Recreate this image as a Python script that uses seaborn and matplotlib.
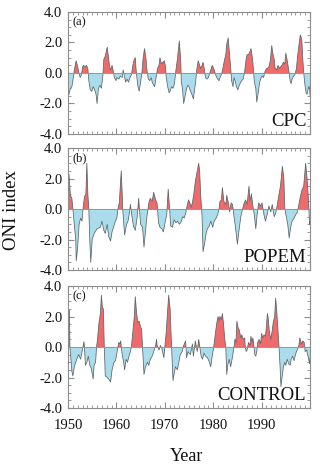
import numpy as np
import pandas as pd
import matplotlib
matplotlib.use("Agg")
import matplotlib.pyplot as plt
import seaborn as sns
from matplotlib.ticker import MultipleLocator

# ---------------- data ----------------
cpc_year = [1950.0,1950.2,1950.5,1950.8,1951.1,1951.3,1951.6,1951.7,1952.0,1952.2,1952.5,1952.8,1953.0,1953.2,1953.5,1953.8,
            1954.1,1954.3,1954.6,1954.9,1955.2,1955.5,1955.8,1956.0,1956.3,1956.6,1956.9,1957.2,1957.4,1957.7,1958.1,1958.3,
            1958.6,1958.8,1959.1,1959.3,1959.6,1959.9,1960.1,1960.5,1960.8,1961.2,1961.4,1961.7,1961.9,1962.2,1962.5,1962.8,
            1963.1,1963.4,1963.7,1963.9,1964.1,1964.4,1964.7,1965.0,1965.3,1965.5,1965.8,1966.1,1966.3,1966.6,1966.9,1967.2,
            1967.4,1967.7,1967.9,1968.2,1968.5,1968.8,1969.0,1969.3,1969.6,1969.9,1970.1,1970.3,1970.6,1970.9,1971.2,1971.4,
            1971.7,1972.0,1972.3,1972.6,1972.8,1973.0,1973.3,1973.4,1973.7,1973.9,1974.2,1974.5,1974.8,1975.0,1975.3,1975.6,
            1975.9,1976.1,1976.4,1976.6,1976.9,1977.2,1977.4,1977.7,1977.9,1978.2,1978.4,1978.7,1979.0,1979.2,1979.5,1979.8,
            1980.1,1980.3,1980.6,1980.9,1981.2,1981.4,1981.7,1982.0,1982.3,1982.6,1982.8,1983.1,1983.3,1983.6,1983.8,1984.1,
            1984.3,1984.6,1984.8,1985.1,1985.4,1985.7,1985.9,1986.2,1986.5,1986.8,1987.0,1987.3,1987.6,1987.8,1988.1,1988.3,
            1988.5,1988.8,1989.0,1989.3,1989.6,1989.9,1990.1,1990.4,1990.7,1991.0,1991.2,1991.5,1991.8,1992.1,1992.3,1992.6,
            1992.8,1993.1,1993.4,1993.7,1993.9,1994.2,1994.5,1994.8,1995.0,1995.3,1995.6,1995.9,1996.1,1996.3,1996.6,1996.9,
            1997.2,1997.4,1997.7,1998.0,1998.3,1998.5,1998.7,1999.0,1999.2,1999.4,1999.7,1999.9,2000.0]
cpc_oni = [-1.5,-1.4,-1.0,-0.9,-0.3,0.2,0.7,0.8,0.4,0.1,-0.3,-0.1,0.4,0.5,0.4,0.5,
           0.3,-0.5,-1.1,-1.2,-0.9,-1.1,-1.4,-2.0,-1.0,-0.8,-1.0,-0.2,0.9,1.1,1.7,1.2,
           0.4,0.2,0.5,0.2,-0.3,-0.5,-0.3,-0.4,-0.2,-0.3,0.2,-0.3,-0.6,-0.4,-0.6,-0.3,
           -0.1,0.5,0.9,1.0,0.1,-0.8,-1.2,-0.6,0.1,0.9,1.6,1.0,0.2,-0.4,-0.5,-0.3,
           -0.6,-0.8,-0.9,-0.3,0.3,0.5,1.0,0.6,0.7,0.8,0.5,-0.3,-0.9,-1.3,-1.1,-0.9,
           -1.0,-0.7,0.2,0.9,1.5,2.1,0.8,-0.5,-1.2,-2.0,-1.5,-1.0,-0.8,-0.9,-1.2,-1.4,
           -1.7,-1.2,-0.5,0.2,0.8,0.5,0.3,0.5,0.7,0.2,-0.3,-0.4,-0.3,-0.1,0.2,0.5,
           0.3,0.1,-0.2,-0.4,-0.5,-0.3,-0.1,0.3,0.8,1.2,1.9,2.3,1.5,0.4,-0.5,-0.9,
           -0.3,-0.6,-0.9,-1.1,-0.8,-0.6,-0.5,-0.4,0.1,0.9,1.2,1.2,1.4,1.6,1.0,0.3,
           -0.6,-1.0,-1.9,-1.3,-0.6,-0.3,-0.2,-0.3,0.1,0.3,0.3,0.4,0.8,1.8,1.3,0.9,
           0.3,0.2,0.5,0.3,0.4,0.5,0.7,0.6,1.3,0.8,0.2,-0.5,-0.7,-0.4,-0.2,-0.1,
           0.3,1.0,1.8,2.5,2.2,1.0,0.0,-0.9,-1.3,-1.4,-0.9,-0.9,-1.5]

popem_year = [1950.0,1950.2,1950.5,1950.8,1951.0,1951.3,1951.6,1951.7,1952.0,1952.3,1952.6,1952.9,1953.1,1953.4,1953.7,1953.9,
              1954.1,1954.3,1954.5,1954.7,1955.0,1955.4,1956.0,1956.7,1957.0,1957.4,1957.7,1958.1,1958.4,1958.8,1959.1,1959.4,
              1959.8,1960.1,1960.3,1960.6,1960.8,1961.0,1961.2,1961.3,1961.7,1962.1,1962.4,1962.7,1962.9,1963.1,1963.3,1963.6,
              1963.9,1964.3,1964.6,1964.8,1965.0,1965.4,1965.7,1966.0,1966.3,1966.7,1967.0,1967.4,1967.7,1968.1,1968.4,1968.7,
              1969.0,1969.4,1969.7,1970.1,1970.4,1970.7,1971.0,1971.2,1971.6,1971.9,1972.3,1972.6,1973.0,1973.3,1973.7,1974.0,
              1974.3,1974.6,1974.9,1975.2,1975.4,1975.7,1976.0,1976.3,1976.6,1977.0,1977.2,1977.4,1977.7,1977.9,1978.2,1978.6,
              1978.8,1979.2,1979.5,1979.9,1980.2,1980.6,1980.9,1981.2,1981.4,1981.7,1981.9,1982.2,1982.6,1982.8,1983.2,1983.4,
              1983.7,1984.0,1984.3,1984.6,1985.0,1985.3,1985.7,1986.0,1986.3,1986.7,1987.0,1987.4,1987.6,1987.9,1988.2,1988.5,
              1988.8,1989.1,1989.4,1989.8,1990.1,1990.5,1990.8,1991.2,1991.5,1991.9,1992.2,1992.6,1992.9,1993.2,1993.5,1993.9,
              1994.3,1994.6,1994.8,1995.1,1995.4,1995.7,1996.0,1996.3,1996.7,1997.0,1997.4,1997.7,1998.0,1998.3,1998.7,1999.1,
              1999.4,1999.7,1999.9,2000.0]
popem_oni = [2.3,2.3,0.9,0.7,0.0,-1.0,-2.0,-3.4,-2.5,-1.0,-0.6,-0.8,0.0,0.8,1.0,3.0,
             1.0,0.0,-2.0,-3.5,-2.0,-1.6,-1.3,-1.2,-0.8,-1.4,-1.6,-1.0,-1.8,-2.1,-1.5,-1.2,
             -0.8,-0.6,0.0,0.4,1.5,2.5,1.0,0.0,-1.7,-1.0,-0.8,-0.2,0.3,-0.2,-0.7,-1.2,
             -1.4,-0.5,0.7,-0.2,-1.0,-1.2,-2.5,-1.5,-0.5,0.4,0.7,0.5,1.1,0.6,0.4,-0.9,
             -1.2,-1.3,-1.5,-0.8,-0.4,1.3,0.0,-1.1,-1.2,-0.7,-0.9,-0.8,-1.0,-0.9,-0.5,-0.6,
             -0.3,0.2,0.6,0.4,0.1,0.4,1.0,1.8,2.3,3.0,2.5,1.0,-0.5,-2.8,-2.3,-1.5,
             -1.3,-1.1,-0.8,-1.2,-0.8,-0.6,-0.4,0.0,0.5,0.6,1.4,0.5,0.3,0.9,0.3,-0.2,
             0.4,0.3,-0.5,-1.2,-2.3,-1.5,-0.5,-0.1,0.3,0.6,0.3,1.5,0.5,1.0,0.2,-0.4,
             -1.3,-0.3,0.4,0.2,0.4,-0.4,-0.8,-0.3,0.2,-0.2,0.3,-0.5,-0.3,0.2,0.8,1.5,
             2.8,2.0,0.0,-0.5,-1.0,-1.9,-1.2,-0.8,-0.6,-0.4,-0.2,0.3,0.8,1.2,1.5,3.0,
             2.0,0.5,-1.0,-0.8]

control_year = [1950.0,1950.3,1950.4,1950.6,1950.8,1951.0,1951.3,1951.6,1951.8,1952.2,1952.6,1952.9,1953.1,1953.3,1953.4,1953.6,
                1953.9,1954.2,1954.5,1954.8,1955.2,1955.4,1955.7,1955.9,1956.1,1956.4,1956.7,1956.9,1957.1,1957.3,1957.5,1957.7,
                1958.1,1958.4,1958.8,1959.1,1959.5,1959.8,1960.1,1960.3,1960.5,1960.7,1960.9,1961.0,1961.2,1961.5,1961.7,1962.0,
                1962.3,1962.6,1962.9,1963.1,1963.4,1963.7,1963.9,1964.1,1964.4,1964.7,1965.0,1965.2,1965.4,1965.7,1966.0,1966.4,
                1966.7,1967.0,1967.4,1967.7,1968.1,1968.3,1968.4,1968.8,1969.1,1969.4,1969.8,1970.0,1970.3,1970.6,1970.8,1971.1,
                1971.4,1971.7,1971.9,1972.2,1972.6,1972.9,1973.2,1973.6,1973.9,1974.3,1974.5,1974.8,1975.0,1975.3,1975.7,1975.9,
                1976.2,1976.3,1976.7,1977.0,1977.2,1977.5,1977.8,1978.1,1978.4,1978.8,1979.1,1979.5,1979.8,1980.1,1980.3,1980.7,
                1981.0,1981.2,1981.4,1981.7,1981.9,1982.1,1982.4,1982.6,1982.8,1983.0,1983.3,1983.6,1983.9,1984.1,1984.3,1984.5,
                1984.7,1984.9,1985.1,1985.4,1985.7,1985.9,1986.1,1986.3,1986.5,1986.6,1986.8,1987.0,1987.3,1987.6,1987.8,1988.0,
                1988.2,1988.4,1988.6,1988.8,1989.0,1989.2,1989.5,1989.8,1990.0,1990.2,1990.5,1990.8,1991.0,1991.2,1991.4,1991.6,
                1991.9,1992.2,1992.4,1992.7,1992.9,1993.1,1993.4,1993.6,1993.8,1994.0,1994.3,1994.5,1994.8,1995.0,1995.3,1995.6,
                1995.9,1996.1,1996.4,1996.7,1997.0,1997.2,1997.5,1997.7,1997.9,1998.2,1998.5,1998.8,1999.0,1999.3,1999.6,1999.9,
                2000.0]
control_oni = [2.4,2.4,0.0,-0.8,-1.6,-1.9,-1.3,-1.0,-0.8,-0.5,-0.8,-0.3,0.0,0.35,0.0,-1.2,
               -1.0,-0.6,-1.2,-1.4,-2.1,-1.2,-1.0,0.0,0.5,1.6,2.2,3.4,2.6,2.5,0.0,-1.9,
               -2.0,-2.1,-2.3,-1.5,-1.0,-0.9,-0.4,0.0,0.3,0.2,0.4,0.0,-0.5,-1.0,-1.5,-0.8,
               -1.0,-0.6,-0.3,0.0,1.0,2.0,3.3,2.5,1.6,1.7,1.3,1.2,0.0,-1.8,-1.3,-1.0,
               -1.2,-0.8,-0.6,-0.3,0.1,0.5,0.1,-0.2,0.1,-0.1,-0.7,0.0,1.0,2.5,3.4,2.5,
               0.0,-2.2,-1.8,-1.3,-1.5,-1.0,-0.5,-0.3,0.1,0.4,-0.7,-0.3,-0.4,-0.5,0.2,-0.6,
               0.1,0.4,-0.3,0.5,0.1,-0.6,-0.8,-0.4,-0.6,-0.7,-0.9,-1.3,-0.6,0.0,0.5,1.5,
               2.0,1.7,2.0,1.8,2.2,1.6,0.5,0.0,-1.8,-1.2,-0.8,-1.3,-0.8,-0.4,0.0,0.5,
               0.3,1.7,1.3,1.1,0.6,0.8,0.6,0.5,0.6,0.1,-0.3,-0.2,0.3,0.1,0.7,0.3,
               0.6,0.1,-0.5,-0.6,-0.3,0.3,0.5,0.2,0.9,0.6,0.8,0.7,1.4,2.2,1.8,1.0,
               0.5,1.1,1.6,2.0,3.2,2.5,1.0,0.0,-1.2,-2.6,-1.8,-1.3,-1.0,-1.2,-0.8,-1.1,
               -1.2,-0.8,-0.6,-0.9,-0.5,-0.3,-0.1,0.1,0.6,0.2,0.4,0.3,-0.3,-0.2,-0.6,-1.1,
               -0.7]

panels = [("(a)", "CPC", cpc_year, cpc_oni),
          ("(b)", "POPEM", popem_year, popem_oni),
          ("(c)", "CONTROL", control_year, control_oni)]

y_ticks = [-4.0, -2.0, 0.0, 2.0, 4.0]
x_ticks = [1950, 1960, 1970, 1980, 1990, 2000]
x_ticklabels = ["1950", "1960", "1970", "1980", "1990", ""]

# ---------------- style ----------------
sns.set_theme(style="ticks")
plt.rcParams["font.family"] = ["Liberation Serif", "DejaVu Serif"]
plt.rcParams["axes.linewidth"] = 0.8

RED = "#ef6b6b"
BLUE = "#aadcec"
LINE = "#5b6468"
FRAME = "#8c8c8c"

fig = plt.figure(figsize=(3.2, 4.65), dpi=100)
left, width = 68 / 320, (310 - 68) / 320
tops = [12, 148, 286]
h = 122

for i, (tag, name, yrs, vals) in enumerate(panels):
    top = tops[i]
    ax = fig.add_axes([left, 1 - (top + h) / 465, width, h / 465])
    df = pd.DataFrame({"year": yrs, "oni": vals})
    x = df["year"].to_numpy()
    y = df["oni"].to_numpy()
    ax.fill_between(x, y, 0, where=y >= 0, interpolate=True, color=RED, lw=0)
    ax.fill_between(x, y, 0, where=y <= 0, interpolate=True, color=BLUE, lw=0)
    sns.lineplot(data=df, x="year", y="oni", ax=ax, color=LINE, lw=0.55)
    ax.axhline(0, color="#8a9aa0", lw=0.7)

    ax.set_xlim(1950, 2000)
    ax.set_ylim(-4, 4)
    ax.set_xticks(x_ticks)
    ax.set_yticks(y_ticks)
    ax.set_yticklabels([f"{v:.1f}" for v in y_ticks])
    ax.xaxis.set_minor_locator(MultipleLocator(1))
    ax.yaxis.set_minor_locator(MultipleLocator(0.5))
    ax.tick_params(which="both", direction="in", top=True, right=True,
                   color=FRAME, labelsize=10.5, labelcolor="#111111")
    ax.tick_params(which="major", length=4, width=0.8)
    ax.tick_params(which="minor", length=2, width=0.6)
    ax.tick_params(axis="y", pad=4)
    ax.tick_params(axis="x", pad=8)
    for s in ax.spines.values():
        s.set_color(FRAME)
        s.set_linewidth(0.8)
    ax.set_xlabel("")
    ax.set_ylabel("")
    if i < 2:
        ax.set_xticklabels([])
    else:
        ax.set_xticklabels(x_ticklabels)

    ax.text(0.02, 0.965, tag, transform=ax.transAxes, ha="left", va="top",
            fontsize=9, color="#111111")
    ax.text(0.985, 0.03, name, transform=ax.transAxes, ha="right", va="bottom",
            fontsize=13.5, color="#111111")

fig.text(12 / 320, 1 - 210 / 465, "ONI index", rotation=90, ha="center",
         va="center", fontsize=13.5, color="#111111")
fig.text(187 / 320, 1 - 456 / 465, "Year", ha="center", va="center",
         fontsize=13, color="#111111")

fig.savefig("out.png", dpi=100)
